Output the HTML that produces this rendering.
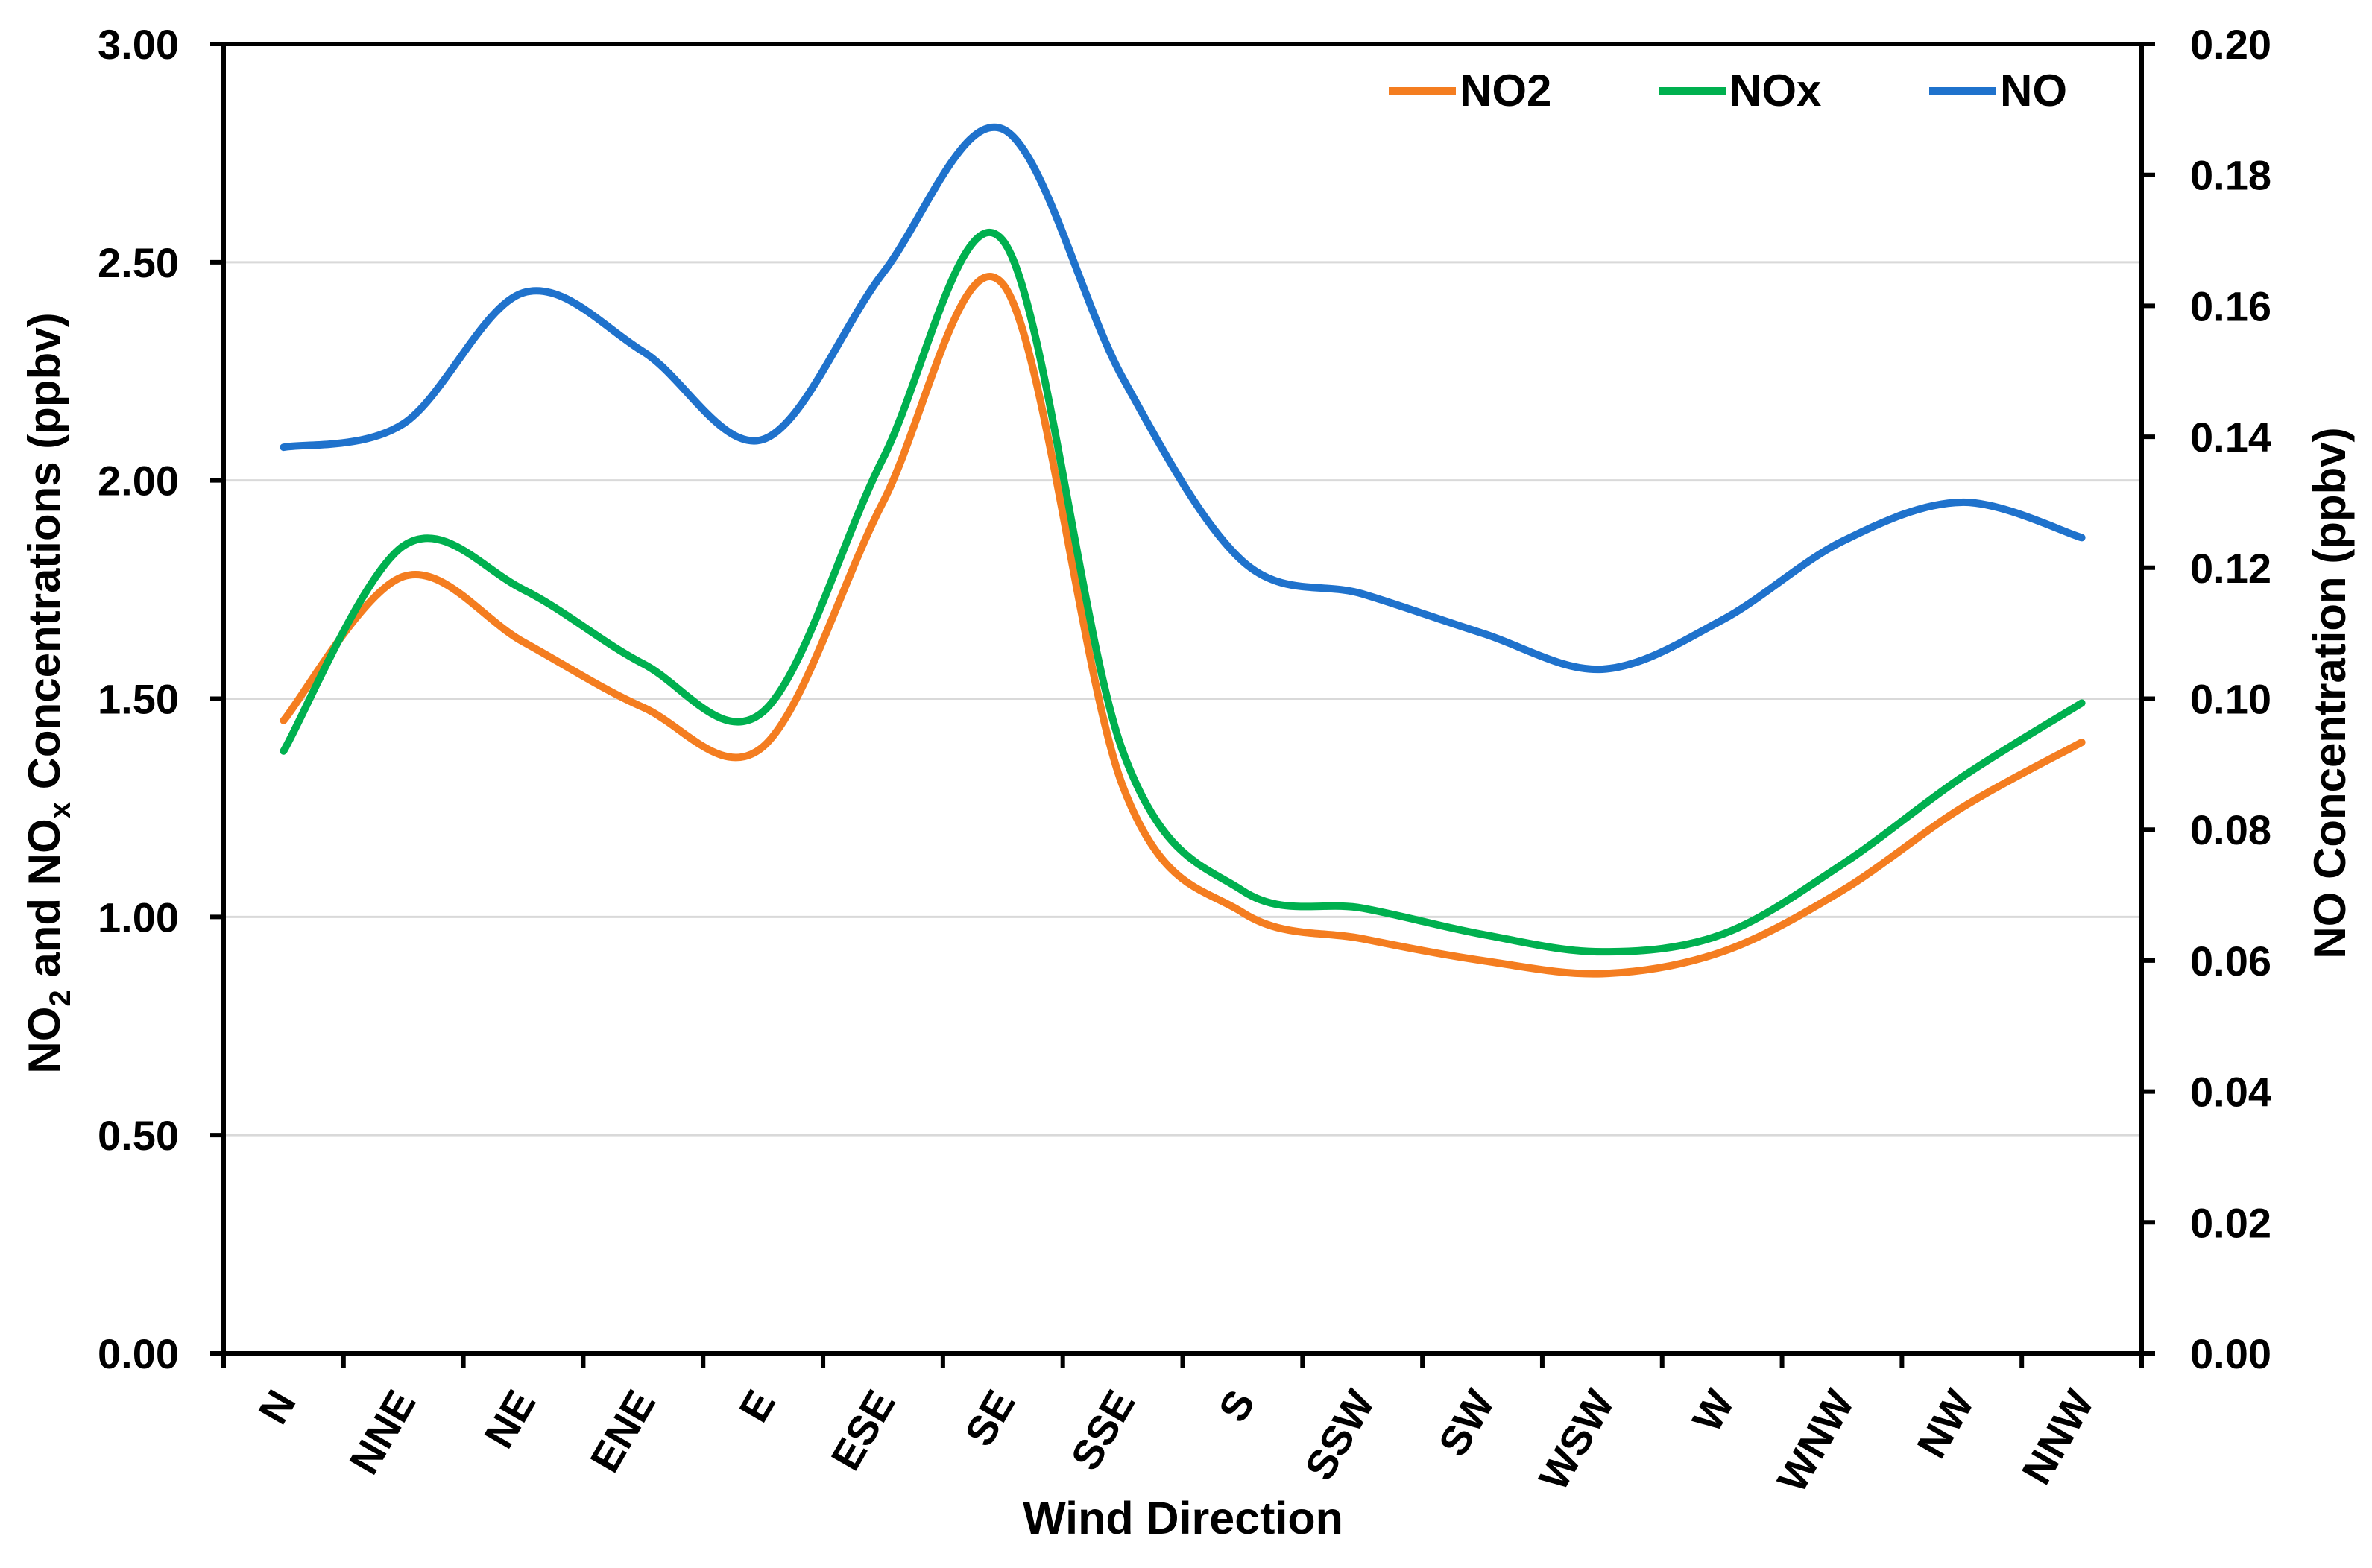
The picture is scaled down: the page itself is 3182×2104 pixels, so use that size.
<!DOCTYPE html>
<html><head><meta charset="utf-8"><style>
html,body{margin:0;padding:0;background:#fff}
svg{display:block}
text{font-family:"Liberation Sans",sans-serif;font-weight:bold;fill:#000}
</style></head><body>
<svg id="chart" width="3182" height="2104" viewBox="0 0 3182 2104" xmlns="http://www.w3.org/2000/svg"></svg>
<script>
const categories=["N","NNE","NE","ENE","E","ESE","SE","SSE","S","SSW","SW","WSW","W","WNW","NW","NNW"];
const no2Values=[1.45,1.78,1.63,1.48,1.39,1.95,2.45,1.30,1.01,0.95,0.90,0.87,0.92,1.06,1.25,1.40];
const noxValues=[1.38,1.85,1.75,1.58,1.47,2.05,2.55,1.38,1.06,1.02,0.96,0.92,0.96,1.12,1.32,1.49];
const noValues=[0.1384,0.142,0.162,0.153,0.1396,0.165,0.187,0.149,0.121,0.116,0.110,0.1045,0.112,0.124,0.130,0.1246];
const leftTicks=[0,0.5,1,1.5,2,2.5,3];
const rightTicks=[0,0.02,0.04,0.06,0.08,0.10,0.12,0.14,0.16,0.18,0.20];

const svg=document.getElementById('chart');
const NS='http://www.w3.org/2000/svg';
const L=300,R=2873,T=59,B=1816;
const bw=(R-L)/categories.length;
const xC=i=>L+bw*(i+0.5);
const yL=v=>B-(v/3)*(B-T);
const yR=v=>B-(v/0.2)*(B-T);
function mk(tag,attrs,parent){const e=document.createElementNS(NS,tag);for(const k in attrs)e.setAttribute(k,attrs[k]);(parent||svg).appendChild(e);return e;}

leftTicks.forEach(v=>{if(v>0&&v<3){const g=mk('line',{x1:L,x2:R,y1:yL(v),y2:yL(v),stroke:'#d9d9d9','stroke-width':3});

}});

function smooth(pts){let d=`M${pts[0][0]},${pts[0][1]}`;for(let i=0;i<pts.length-1;i++){const p0=pts[Math.max(0,i-1)],p1=pts[i],p2=pts[i+1],p3=pts[Math.min(pts.length-1,i+2)];const t=6;d+=` C${p1[0]+(p2[0]-p0[0])/t},${p1[1]+(p2[1]-p0[1])/t} ${p2[0]-(p3[0]-p1[0])/t},${p2[1]-(p3[1]-p1[1])/t} ${p2[0]},${p2[1]}`;}return d;}
function series(vals,yf,color,name){const p=mk('path',{d:smooth(vals.map((v,i)=>[xC(i),yf(v)])),fill:'none',stroke:color,'stroke-width':10,'stroke-linejoin':'round','stroke-linecap':'round'});

}
series(noValues,yR,'#1F72CC','no-line');
series(no2Values,yL,'#F47D20','no2-line');
series(noxValues,yL,'#00B04F','nox-line');

const ax=mk('path',{d:`M${L},${T} H${R} M${L},${T} V${B} H${R} V${T}`,fill:'none',stroke:'#000','stroke-width':6});


leftTicks.forEach(v=>{mk('line',{x1:L-18,x2:L,y1:yL(v),y2:yL(v),stroke:'#000','stroke-width':6});
const t=mk('text',{x:240,y:yL(v)+20,'text-anchor':'end','font-size':56});t.textContent=v.toFixed(2);

});
rightTicks.forEach(v=>{mk('line',{x1:R,x2:R+18,y1:yR(v),y2:yR(v),stroke:'#000','stroke-width':6});
const t=mk('text',{x:2938,y:yR(v)+20,'font-size':56});t.textContent=v.toFixed(2);

});
for(let i=0;i<=categories.length;i++)mk('line',{x1:L+bw*i,x2:L+bw*i,y1:B,y2:B+20,stroke:'#000','stroke-width':6});
categories.forEach((c,i)=>{const x=xC(i)+18,y=1880;const t=mk('text',{x:x,y:y,'text-anchor':'end','font-size':56,transform:`rotate(-60 ${x} ${y})`});t.textContent=c;

});

let t=mk('text',{x:1587,y:2058,'text-anchor':'middle','font-size':61});t.textContent='Wind Direction';


t=mk('text',{x:80,y:930,'text-anchor':'middle','font-size':60,transform:'rotate(-90 80 930)'});
t.innerHTML='NO<tspan font-size="40" dy="14">2</tspan><tspan dy="-14"> and NO</tspan><tspan font-size="40" dy="14">x</tspan><tspan dy="-14"> Concentrations (ppbv)</tspan>';


t=mk('text',{x:3146,y:930,'text-anchor':'middle','font-size':60,transform:'rotate(-90 3146 930)'});t.textContent='NO Concentration (ppbv)';



[['NO2','#F47D20',1863],['NOx','#00B04F',2225],['NO','#1F72CC',2588]].forEach(([n,c,x])=>{
const g=mk('g',{});


mk('line',{x1:x,x2:x+90,y1:122,y2:122,stroke:c,'stroke-width':10},g);
const tt=mk('text',{x:x+95,y:142,'font-size':60},g);tt.textContent=n;});
</script>
</body></html>
